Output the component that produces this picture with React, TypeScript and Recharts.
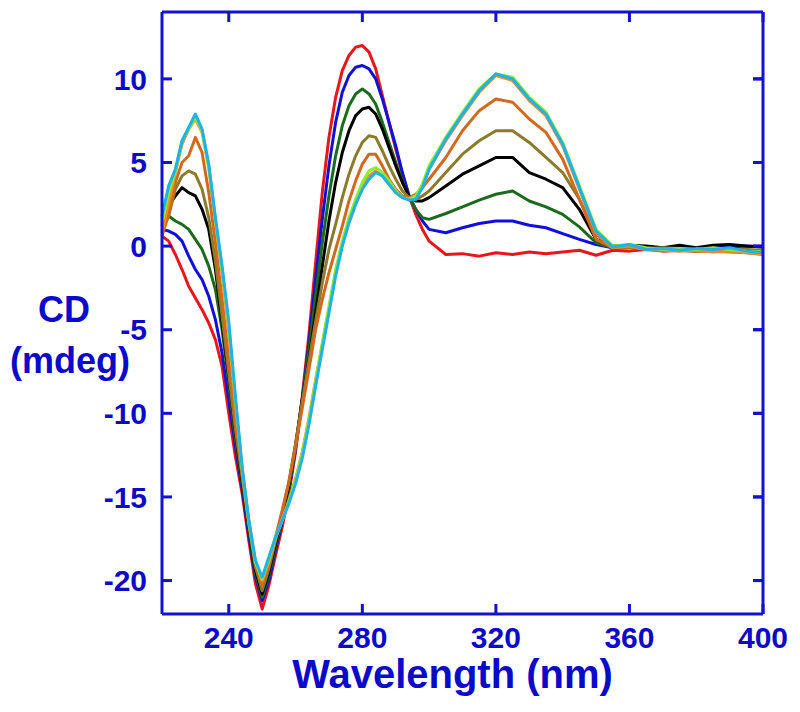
import React from 'react';
import { LineChart, Line, XAxis, YAxis, Label } from 'recharts';

// wavelength grid (nm)
const wavelength = [
  220, 222, 224, 226, 228, 230, 232, 234, 236, 238,
  240, 242, 244, 246, 248, 250, 252, 254, 256, 258,
  260, 262, 264, 266, 268, 270, 272, 274, 276, 278,
  280, 282, 284, 286, 288, 290, 292, 294, 296, 298,
  300, 305, 310, 315, 320, 325, 330, 335, 340, 345,
  350, 355, 360, 365, 370, 375, 380, 385, 390, 395, 400,
];

// CD (mdeg) per spectrum
const red = [
  0.6, 0.3, -0.5, -1.4, -2.4, -3.1, -3.8, -4.6, -5.6, -7.2,
  -10.0, -12.6, -14.8, -17.6, -20.2, -21.7, -20.3, -18.5, -16.8, -14.8,
  -12.3, -9.0, -5.3, -1.0, 3.2, 6.5, 8.9, 10.5, 11.4, 11.9,
  12.0, 11.6, 10.6, 9.0, 7.4, 5.8, 4.3, 3.0, 1.9, 1.0,
  0.3, -0.5, -0.45, -0.6, -0.4, -0.5, -0.35, -0.45, -0.35, -0.25,
  -0.55, -0.25, -0.3, -0.2, -0.3, -0.25, -0.3, -0.25, -0.3, -0.35, -0.4,
];
const blue = [
  1.0, 0.9, 0.7, 0.3, -0.6, -1.4, -2.0, -3.0, -4.4, -6.4,
  -9.2, -12.0, -14.5, -17.3, -19.8, -21.2, -20.0, -18.2, -16.5, -14.6,
  -12.1, -9.2, -5.8, -2.0, 1.6, 4.8, 7.4, 9.2, 10.2, 10.7,
  10.8, 10.6, 10.0, 8.8, 7.4, 6.0, 4.4, 3.0, 2.2, 1.5,
  1.0, 0.8, 1.1, 1.35, 1.5, 1.5, 1.25, 1.1, 0.75, 0.4,
  0.1, -0.1, -0.05, -0.1, -0.15, -0.1, -0.15, -0.1, -0.05, 0.0, -0.05,
];
const green = [
  2.0, 1.8, 1.5, 1.3, 1.0, 0.4, -0.2, -1.2, -2.6, -5.0,
  -8.2, -11.6, -14.2, -17.0, -19.6, -21.0, -19.7, -18.0, -16.3, -14.5,
  -12.0, -9.2, -6.2, -3.0, 0.2, 3.0, 5.4, 7.2, 8.4, 9.1,
  9.4, 9.1, 8.5, 7.4, 6.2, 5.0, 3.9, 2.9, 2.2, 1.7,
  1.6, 1.95, 2.35, 2.75, 3.1, 3.3, 2.7, 2.35, 1.9, 1.15,
  0.2, -0.1, -0.1, -0.15, -0.1, -0.2, -0.15, -0.2, -0.2, -0.25, -0.3,
];
const black = [
  1.2, 2.4, 3.0, 3.5, 3.2, 3.0, 2.2, 1.0, -1.4, -4.6,
  -7.8, -11.2, -14.0, -16.8, -19.4, -20.8, -19.5, -17.8, -16.1, -14.3,
  -11.9, -9.2, -6.8, -4.0, -1.2, 1.5, 3.8, 5.6, 6.9, 7.8,
  8.2, 8.3, 7.9, 7.0, 5.9, 4.8, 3.8, 3.0, 2.7, 2.7,
  2.9, 3.6, 4.3, 4.8, 5.3, 5.3, 4.4, 4.0, 3.5, 2.2,
  0.4, 0.0, 0.05, 0.0, -0.1, 0.05, -0.1, 0.05, 0.1, 0.0, -0.05,
];
const olive = [
  1.0, 1.8, 3.4, 4.2, 4.5, 4.3, 3.4, 1.7, -0.9, -4.2,
  -7.6, -11.0, -13.8, -16.7, -19.2, -20.6, -19.3, -17.6, -15.9, -14.1,
  -11.8, -9.3, -6.9, -4.5, -2.2, -0.2, 1.3, 2.9, 4.3, 5.4,
  6.2, 6.6, 6.5, 5.7, 4.8, 4.0, 3.3, 2.9, 2.8, 3.0,
  3.3, 4.4, 5.5, 6.3, 6.9, 6.9, 6.2, 5.3, 4.4, 2.8,
  0.7, -0.1, -0.05, -0.15, -0.1, -0.15, -0.2, -0.15, -0.2, -0.2, -0.25,
];
const orange = [
  0.6, 1.9, 3.8, 5.0, 5.4, 6.5, 5.6, 3.2, 0.2, -3.2,
  -6.8, -10.4, -13.6, -16.5, -19.0, -20.3, -19.0, -17.4, -15.8, -14.1,
  -12.0, -9.7, -7.4, -5.0, -3.2, -1.6, -0.2, 1.2, 2.7, 3.9,
  4.9, 5.5, 5.5, 4.8, 4.0, 3.4, 3.0, 2.9, 3.1, 3.5,
  4.0, 5.3, 6.9, 8.1, 8.8, 8.6, 7.6, 6.8, 5.2, 2.8,
  0.4, -0.1, -0.05, -0.2, -0.2, -0.25, -0.3, -0.3, -0.35, -0.4, -0.5,
];
const lightOrange = [
  0.8, 2.6, 4.4, 6.1, 7.0, 7.6, 6.8, 4.7, 1.5, -1.6,
  -5.2, -9.5, -13.3, -16.4, -18.9, -20.0, -18.9, -17.5, -16.4, -15.2,
  -13.9, -12.3, -10.3, -8.0, -5.9, -3.8, -1.6, 0.1, 1.4, 2.5,
  3.5, 4.2, 4.5, 4.2, 3.7, 3.2, 2.9, 2.8, 2.9, 3.6,
  4.6, 6.3, 7.8, 9.2, 10.2, 9.9, 8.7, 7.8, 6.0, 3.4,
  0.8, -0.1, 0.0, -0.2, -0.25, -0.3, -0.25, -0.35, -0.3, -0.4, -0.45,
];
const lime = [
  1.4, 3.2, 4.5, 6.3, 7.0, 7.7, 6.9, 4.8, 1.6, -1.4,
  -4.8, -9.2, -13.3, -16.5, -18.9, -19.9, -18.7, -17.4, -16.4, -15.3,
  -14.0, -12.4, -10.4, -8.1, -5.8, -3.6, -1.4, 0.3, 1.7, 2.8,
  3.8, 4.5, 4.7, 4.4, 3.9, 3.3, 2.9, 2.8, 3.0, 3.7,
  4.8, 6.5, 8.0, 9.4, 10.3, 10.1, 8.9, 8.0, 6.2, 3.6,
  1.0, 0.0, 0.1, -0.1, -0.2, -0.15, -0.2, -0.1, -0.2, -0.3, -0.35,
];
const cyan = [
  1.8, 3.6, 4.6, 6.3, 7.1, 7.9, 7.0, 4.9, 1.7, -1.2,
  -4.5, -9.0, -13.2, -16.4, -18.8, -19.8, -18.6, -17.4, -16.4, -15.4,
  -14.2, -12.7, -10.7, -8.4, -6.2, -4.0, -1.8, 0.0, 1.4, 2.5,
  3.4, 4.0, 4.4, 4.2, 3.7, 3.2, 2.9, 2.75, 2.8, 3.5,
  4.6, 6.4, 7.9, 9.3, 10.3, 10.0, 8.8, 7.9, 6.1, 3.5,
  0.9, -0.05, 0.1, -0.2, -0.15, -0.25, -0.15, -0.2, -0.1, -0.3, -0.4,
];

const xTicks = [240, 280, 320, 360, 400];
const yTicks = [-20, -15, -10, -5, 0, 5, 10];

// the last spectrum is bound to the mirrored (top/right) axes;
// both axis pairs share the same fixed domains
const series = [
  { key: 'red', color: '#E8161B', values: red, mirror: false },
  { key: 'blue', color: '#1010D8', values: blue, mirror: false },
  { key: 'green', color: '#1C6B1C', values: green, mirror: false },
  { key: 'black', color: '#000000', values: black, mirror: false },
  { key: 'olive', color: '#8B7B2B', values: olive, mirror: false },
  { key: 'orange', color: '#D2691E', values: orange, mirror: false },
  { key: 'lightOrange', color: '#F08C28', values: lightOrange, mirror: false },
  { key: 'lime', color: '#88F02A', values: lime, mirror: false },
  { key: 'cyan', color: '#1FB2E8', values: cyan, mirror: true },
];

const chartData = wavelength.map((wl, i) => {
  const row: Record<string, number> = { wl };
  series.forEach((s) => {
    row[s.key] = s.values[i];
  });
  return row;
});

const CHART_W = 784;
const CHART_H = 700;
const MARGIN = { top: 4, right: 29, bottom: 0, left: 0 };
const PLOT_RIGHT = CHART_W - MARGIN.right;

const AXIS = '#1212D0';
const TEXT = '#0A0AC8';
const FONT = '"Liberation Sans", Arial, sans-serif';

const tickStyle = { fill: TEXT, fontSize: 30, fontWeight: 700, fontFamily: FONT };
const axisLine = { stroke: AXIS, strokeWidth: 3 };
const tickLine = { stroke: AXIS, strokeWidth: 3 };
const EmptyTick = () => <g />;

// left tick label; also puts the matching inward tick on the right frame
const LeftTick = (props: any) => {
  const { x, y, payload } = props;
  return (
    <g>
      <text
        x={x}
        y={y}
        dy="0.355em"
        textAnchor="end"
        fill={TEXT}
        fontSize={30}
        fontWeight={700}
        fontFamily={FONT}
      >
        {payload.value}
      </text>
      <line x1={PLOT_RIGHT - 10} x2={PLOT_RIGHT} y1={y} y2={y} stroke={AXIS} strokeWidth={3} />
    </g>
  );
};

const XTitle = (props: any) => {
  const vb = props.viewBox;
  return (
    <text
      x={vb.x + vb.width / 2 - 10}
      y={vb.y + 74}
      textAnchor="middle"
      fill={TEXT}
      fontSize={40}
      fontWeight={700}
      fontFamily={FONT}
    >
      Wavelength (nm)
    </text>
  );
};

const YTitle = (props: any) => {
  const vb = props.viewBox;
  const cy = vb.y + vb.height / 2;
  return (
    <g fill={TEXT} fontSize={36} fontWeight={700} fontFamily={FONT}>
      <text x={56} y={cy + 9} textAnchor="middle">CD</text>
      <text x={62} y={cy + 60} textAnchor="middle">(mdeg)</text>
    </g>
  );
};

export default function App() {
  return (
    <div style={{ width: CHART_W, height: CHART_H }}>
      <LineChart width={CHART_W} height={CHART_H} data={chartData} margin={MARGIN}>
        <XAxis
          xAxisId="bottom"
          dataKey="wl"
          type="number"
          domain={[220, 400]}
          ticks={xTicks}
          interval={0}
          height={94}
          tickSize={-10}
          tickMargin={23}
          axisLine={axisLine}
          tickLine={tickLine}
          tick={tickStyle}
        >
          <Label content={XTitle} />
        </XAxis>
        <XAxis
          xAxisId="top"
          orientation="top"
          dataKey="wl"
          type="number"
          domain={[220, 400]}
          ticks={xTicks}
          interval={0}
          height={1}
          mirror
          tickSize={10}
          axisLine={axisLine}
          tickLine={tickLine}
          tick={<EmptyTick />}
        />
        <YAxis
          yAxisId="left"
          type="number"
          domain={[-22, 14]}
          ticks={yTicks}
          interval={0}
          width={154}
          tickSize={-10}
          tickMargin={25}
          axisLine={axisLine}
          tickLine={tickLine}
          tick={<LeftTick />}
        >
          <Label content={YTitle} />
        </YAxis>
        <YAxis
          yAxisId="right"
          orientation="right"
          type="number"
          domain={[-22, 14]}
          ticks={yTicks}
          interval={0}
          width={1}
          mirror
          tickSize={10}
          axisLine={axisLine}
          tickLine={tickLine}
          tick={<EmptyTick />}
        />
        {series.map((s) => (
          <Line
            key={s.key}
            xAxisId={s.mirror ? 'top' : 'bottom'}
            yAxisId={s.mirror ? 'right' : 'left'}
            dataKey={s.key}
            type="linear"
            stroke={s.color}
            strokeWidth={3}
            strokeLinejoin="round"
            dot={false}
            activeDot={false}
            isAnimationActive={false}
          />
        ))}
      </LineChart>
    </div>
  );
}
